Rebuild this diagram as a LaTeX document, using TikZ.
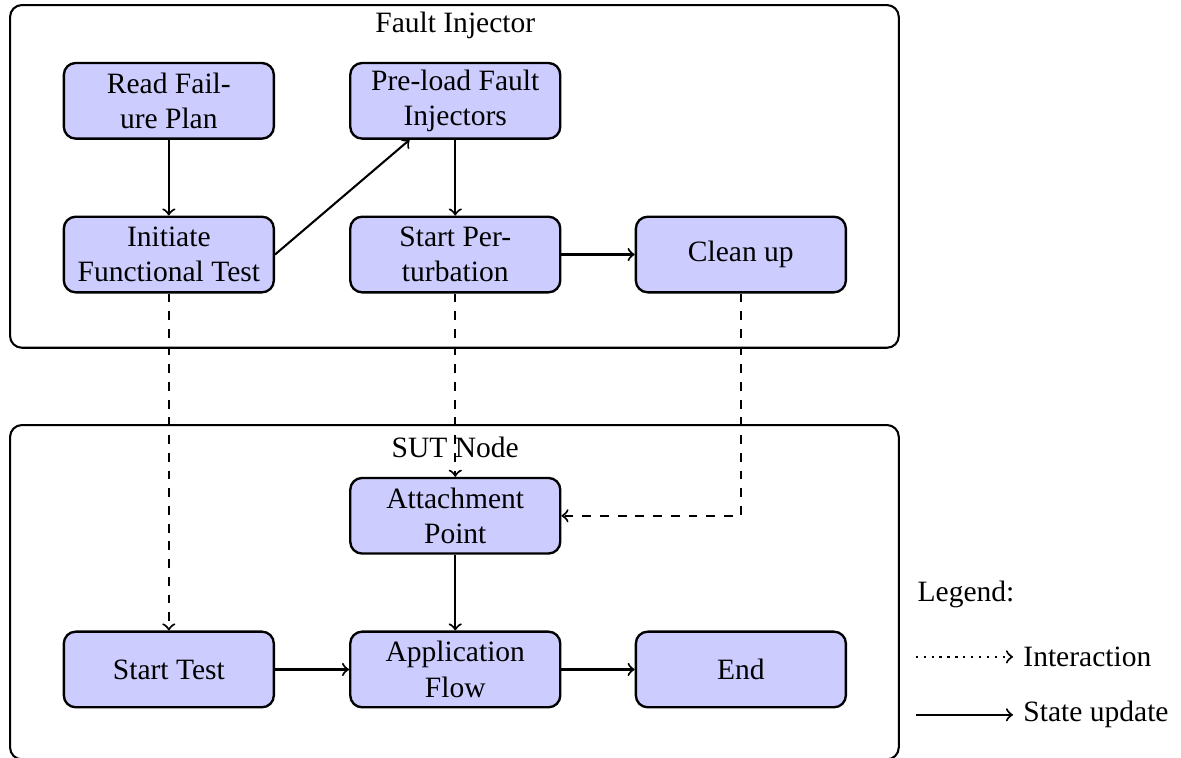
\documentclass[tikz,border=0pt]{standalone}
\usepackage{fontspec}
\setmainfont{Liberation Serif}
\usepackage{tikz}

\begin{document}
\begin{tikzpicture}[>=to,
  block/.style={rectangle, draw, thick, rounded corners, fill=blue!20, minimum width=2.5cm, minimum height=0.9cm, inner sep=2pt, align=center},
  group/.style={rectangle, draw, line width=0.7pt, rounded corners, minimum width=10.58cm},
  flow/.style={->, line width=0.7pt},
  talk/.style={->, line width=0.7pt, dashed}]
  \useasboundingbox (0cm, 0cm) rectangle (14.06cm, -9.024cm);
  \node [group, minimum height=4.08cm] (fi) at (5.41cm, -2.1cm) {};
  \node [group, minimum height=3.98cm] (sut) at (5.41cm, -7.05cm) {};
  \node (fititle) at (5.42cm, -0.3cm) {Fault Injector};
  \node (suttitle) at (5.42cm, -5.33cm) {SUT Node};
  \node [block] (read) at (2.01cm, -1.2cm) {Read Fail-\\ure Plan};
  \node [block] (preload) at (5.42cm, -1.2cm) {Pre-load Fault\\Injectors};
  \node [block] (init) at (2.01cm, -3.03cm) {Initiate\\Functional Test};
  \node [block] (perturb) at (5.42cm, -3.03cm) {Start Per-\\turbation};
  \node [block] (cleanup) at (8.82cm, -3.03cm) {Clean up};
  \node [block] (attach) at (5.42cm, -6.14cm) {Attachment\\Point};
  \node [block] (starttest) at (2.01cm, -7.97cm) {Start Test};
  \node [block] (appflow) at (5.42cm, -7.97cm) {Application\\Flow};
  \node [block] (finish) at (8.82cm, -7.97cm) {End};
  \node [anchor=west] (legend) at (10.8cm, -7.08cm) {Legend:};
  \node [anchor=west] (interaction) at (12.06cm, -7.82cm) {Interaction};
  \node [anchor=west] (stateupd) at (12.06cm, -8.51cm) {State update};
  \coordinate (i0) at (10.9cm, -7.82cm);
  \coordinate (s0) at (10.9cm, -8.51cm);
  \draw [->, dotted, line width=0.7pt] (i0) -- (interaction.west);
  \draw [flow] (s0) -- (stateupd.west);
  \draw [flow] (read) -- (init);
  \draw [flow] (init.east) -- (preload);
  \draw [flow] (preload) -- (perturb);
  \draw [flow] (perturb) -- (cleanup);
  \draw [talk] (init) -- (starttest);
  \draw [talk] (perturb) -- (attach);
  \draw [talk] (cleanup) |- (attach);
  \draw [flow] (attach) -- (appflow);
  \draw [flow] (starttest) -- (appflow);
  \draw [flow] (appflow) -- (finish);
\end{tikzpicture}
\end{document}
